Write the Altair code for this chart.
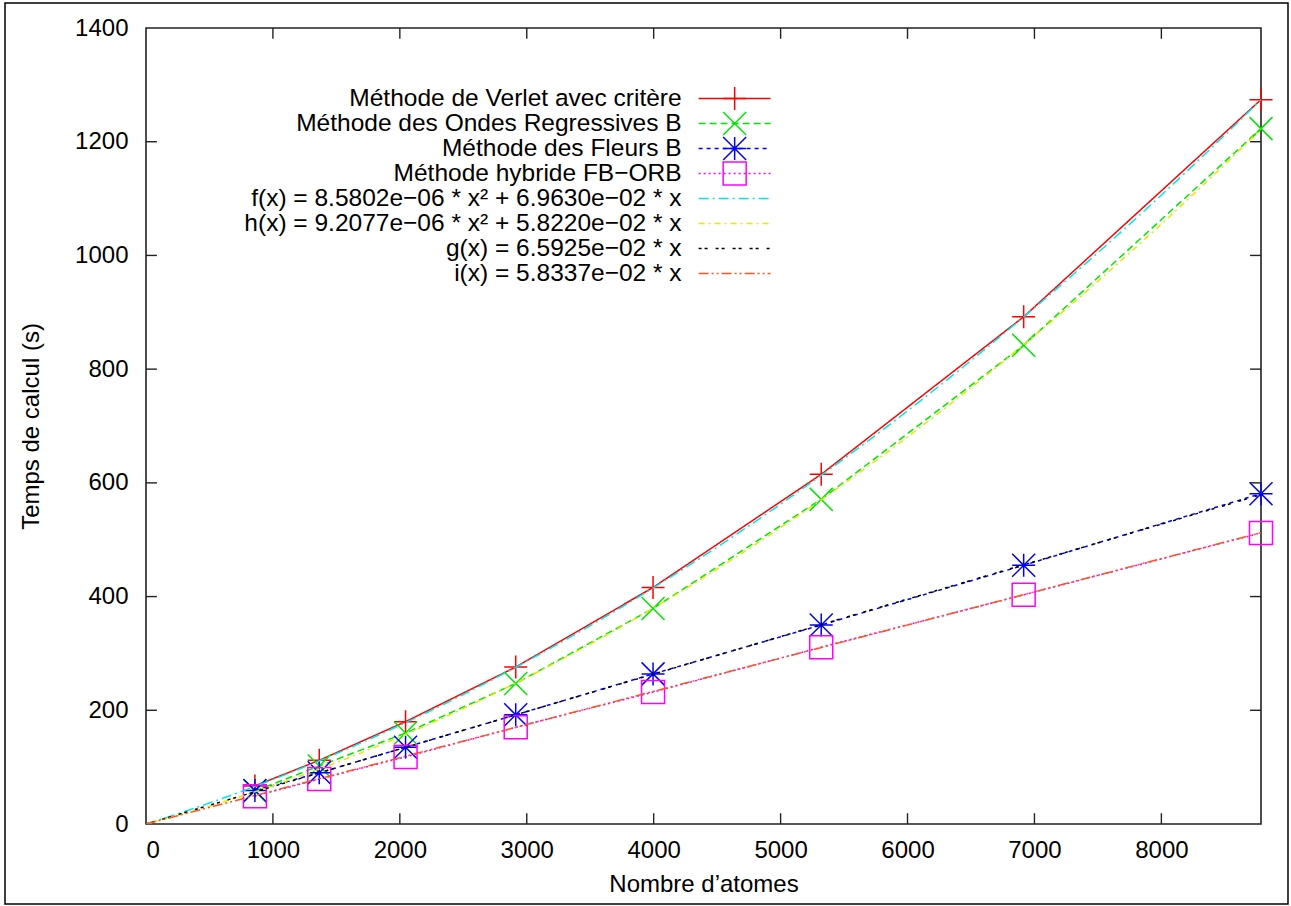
import altair as alt
import pandas as pd

FONT = "Liberation Sans"

# ---------------- data ----------------
n_atomes = [858, 1365, 2045, 2913, 3995, 5320, 6915, 8785]
verlet = [67, 112, 180, 276, 416, 615, 892, 1274]
ondes_reg = [58, 102, 160, 247, 379, 571, 842, 1223]
fleurs = [59, 90, 135, 192, 264, 350, 455, 581]
hybride = [49, 79, 118, 170, 232, 311, 403, 512]

# fit coefficients written in the legend: a*x^2 + b*x
fit_keys = ["f", "h", "g", "i"]
fit_a = [8.5802e-06, 9.2077e-06, 0.0, 0.0]
fit_b = [6.9630e-02, 5.8220e-02, 6.5925e-02, 5.8337e-02]

series_keys = ["verlet", "orb", "fleurs", "hybride", "f", "h", "g", "i"]
series_labels = [
    "Méthode de Verlet avec critère",
    "Méthode des Ondes Regressives B",
    "Méthode des Fleurs B",
    "Méthode hybride FB−ORB",
    "f(x) = 8.5802e−06 * x² + 6.9630e−02 * x",
    "h(x) = 9.2077e−06 * x² + 5.8220e−02 * x",
    "g(x) = 6.5925e−02 * x",
    "i(x) = 5.8337e−02 * x",
]
series_colors = ["#ff0000", "#00e600", "#0000ff", "#ff00ff",
                 "#00e8e8", "#e8e800", "#000000", "#ff5522"]
series_dashes = [[1, 0], [7, 4], [4, 4], [2, 3],
                 [10, 4, 2, 4], [6, 4, 2, 4], [3, 3, 3, 8], [10, 3, 2, 3, 2, 3]]
PLUS = "M-1,0H1M0,-1V1"
CROSS = "M-1,-1L1,1M-1,1L1,-1"
STAR = "M-1,0H1M0,-1V1M-1,-1L1,1M-1,1L1,-1"
marker_shapes = [PLUS, CROSS, STAR, "square"]

x_ticks = [0, 1000, 2000, 3000, 4000, 5000, 6000, 7000, 8000]
y_ticks = [0, 200, 400, 600, 800, 1000, 1200, 1400]
X_MAX = 8785
Y_MAX = 1400
# inward tick length expressed in data units (x ticks along y, y ticks along x)
x_tick_len = 19
y_tick_len = 86

# legend placement (data units)
legend_rows_y = [1276, 1232, 1188, 1144, 1100, 1056, 1012, 968]
legend_text_x = 4220
legend_line_x1 = 4354
legend_line_x2 = 4921
legend_mark_x = 4638

# ---------------- tables ----------------
rows = []
for key, vals in zip(series_keys[:4], [verlet, ondes_reg, fleurs, hybride]):
    for xv, yv in zip(n_atomes, vals):
        rows.append({"series": key, "x": xv, "y": yv})
df = pd.DataFrame(rows)

leg = pd.DataFrame({
    "series": series_keys,
    "label": series_labels,
    "y": legend_rows_y,
    "tx": [legend_text_x] * 8,
    "x1": [legend_line_x1] * 8,
    "x2": [legend_line_x2] * 8,
    "mx": [legend_mark_x] * 8,
})
leg_pts = leg.iloc[:4]

tick_rows = []
for t in x_ticks[1:]:
    tick_rows.append({"x": t, "x2": t, "y": 0, "y2": x_tick_len})
    tick_rows.append({"x": t, "x2": t, "y": Y_MAX - x_tick_len, "y2": Y_MAX})
for t in y_ticks[1:-1]:
    tick_rows.append({"x": 0, "x2": y_tick_len, "y": t, "y2": t})
    tick_rows.append({"x": X_MAX - y_tick_len, "x2": X_MAX, "y": t, "y2": t})
ticks_df = pd.DataFrame(tick_rows)

xscale = alt.Scale(domain=[0, X_MAX], nice=False, zero=False)
yscale = alt.Scale(domain=[0, Y_MAX], nice=False, zero=False)
color = alt.Color("series:N", scale=alt.Scale(domain=series_keys, range=series_colors), legend=None)
dash = alt.StrokeDash("series:N", scale=alt.Scale(domain=series_keys, range=series_dashes), legend=None)
shape = alt.Shape("series:N", scale=alt.Scale(domain=series_keys[:4], range=marker_shapes), legend=None)

main_x_axis = alt.Axis(values=x_ticks, format="d", ticks=False, tickSize=0, domain=False, grid=False,
                       labelFont=FONT, labelFontSize=24, labelColor="black", labelPadding=14,
                       title="Nombre d’atomes", titleFont=FONT, titleFontSize=24,
                       titleFontWeight="normal", titleColor="black", titlePadding=10)
main_y_axis = alt.Axis(values=y_ticks, format="d", ticks=False, tickSize=0, domain=False, grid=False,
                       labelFont=FONT, labelFontSize=24, labelColor="black", labelPadding=18,
                       title="Temps de calcul (s)", titleFont=FONT, titleFontSize=24,
                       titleFontWeight="normal", titleColor="black", titlePadding=31)

LW = 1.5

lines = alt.Chart(df).mark_line(strokeWidth=LW).encode(
    x=alt.X("x:Q", scale=xscale, axis=main_x_axis),
    y=alt.Y("y:Q", scale=yscale, axis=main_y_axis),
    color=color, strokeDash=dash, detail="series:N",
)

points = alt.Chart(df).mark_point(filled=False, strokeWidth=LW, size=529, opacity=1).encode(
    x=alt.X("x:Q", scale=xscale),
    y=alt.Y("y:Q", scale=yscale),
    color=color, shape=shape,
)

calc = {}
for k, a, b in zip(fit_keys, fit_a, fit_b):
    calc[k] = f"{a}*datum.x*datum.x + {b}*datum.x"

fits = alt.Chart(alt.sequence(0, X_MAX + 1, X_MAX / 300, as_="x")).transform_calculate(
    **calc
).transform_fold(fit_keys, as_=["series", "y"]).mark_line(strokeWidth=LW, clip=True).encode(
    x=alt.X("x:Q", scale=xscale),
    y=alt.Y("y:Q", scale=yscale),
    color=color, strokeDash=dash, detail="series:N",
)

ticks = alt.Chart(ticks_df).mark_rule(color="#222222", strokeWidth=1.4).encode(
    x=alt.X("x:Q", scale=xscale), x2="x2:Q",
    y=alt.Y("y:Q", scale=yscale), y2="y2:Q",
)

leg_text = alt.Chart(leg).mark_text(align="right", baseline="middle", font=FONT,
                                    fontSize=24.5, color="black").encode(
    x=alt.X("tx:Q", scale=xscale),
    y=alt.Y("y:Q", scale=yscale),
    text="label:N",
)
leg_lines = alt.Chart(leg).mark_rule(strokeWidth=LW).encode(
    x=alt.X("x1:Q", scale=xscale),
    x2="x2:Q",
    y=alt.Y("y:Q", scale=yscale),
    color=color, strokeDash=dash,
)
leg_marks = alt.Chart(leg_pts).mark_point(filled=False, strokeWidth=LW, size=529, opacity=1).encode(
    x=alt.X("mx:Q", scale=xscale),
    y=alt.Y("y:Q", scale=yscale),
    color=color, shape=shape,
)

frame = alt.Chart(pd.DataFrame({"k": [0]})).mark_rect(fill=None, stroke="black", strokeWidth=1.5).encode(
    x=alt.value(-141), x2=alt.value(1142), y=alt.value(-25), y2=alt.value(876),
)

chart = alt.layer(
    lines, points, fits, ticks, leg_text, leg_lines, leg_marks, frame
).properties(
    width=1115, height=796,
    autosize=alt.AutoSizeParams(type="none"),
    padding={"left": 146, "top": 28, "right": 30, "bottom": 82},
    background="white",
).configure_view(
    stroke="#222222", strokeWidth=1.6
)

chart.save("out.html", embed_options={"renderer": "svg", "actions": False})
